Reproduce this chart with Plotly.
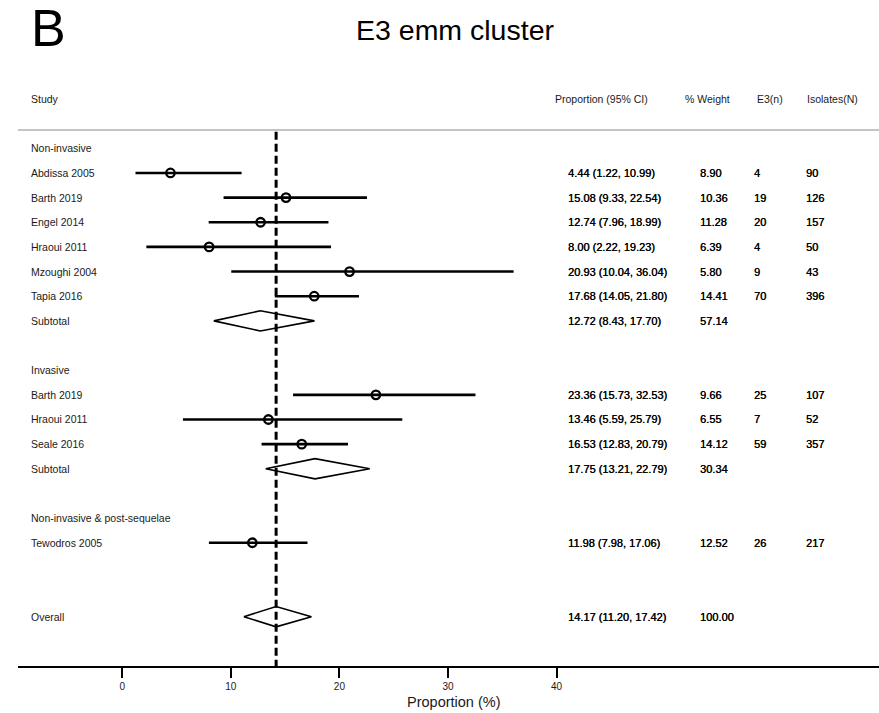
import plotly.graph_objects as go

# ---------------- data ----------------
group_names = ["Non-invasive", "Invasive", "Non-invasive & post-sequelae"]
study_names = ["Abdissa 2005", "Barth 2019", "Engel 2014", "Hraoui 2011", "Mzoughi 2004",
               "Tapia 2016", "Barth 2019", "Hraoui 2011", "Seale 2016", "Tewodros 2005"]
study_group = [0, 0, 0, 0, 0, 0, 1, 1, 1, 2]
prop = [4.44, 15.08, 12.74, 8.00, 20.93, 17.68, 23.36, 13.46, 16.53, 11.98]
ci_lo = [1.22, 9.33, 7.96, 2.22, 10.04, 14.05, 15.73, 5.59, 12.83, 7.98]
ci_hi = [10.99, 22.54, 18.99, 19.23, 36.04, 21.80, 32.53, 25.79, 20.79, 17.06]
weight = [8.90, 10.36, 11.28, 6.39, 5.80, 14.41, 9.66, 6.55, 14.12, 12.52]
e3_n = [4, 19, 20, 4, 9, 70, 25, 7, 59, 26]
isolates_n = [90, 126, 157, 50, 43, 396, 107, 52, 357, 217]

sub_prop = [12.72, 17.75, None]
sub_lo = [8.43, 13.21, None]
sub_hi = [17.70, 22.79, None]
sub_weight = [57.14, 30.34, None]

overall_prop = 14.17
overall_lo = 11.20
overall_hi = 17.42
overall_weight = 100.00

header_labels = ["Study", "Proportion (95% CI)", "% Weight", "E3(n)", "Isolates(N)"]
tick_vals = [0, 10, 20, 30, 40]

# ---------------- layout constants ----------------
W, H = 879, 713
ML, MR, MT, MB = 18, 0, 80, 47
X0, X1 = -9.60, 69.69
Y_BOTTOM, Y_TOP = 22.0, -1.771
FONT = "Liberation Sans, Arial, Helvetica, sans-serif"

SH = -0.19  # small left shift to compensate annotation padding
COL_LABEL = -8.40 + SH
COL_PROP_H, COL_PROP = 39.85 + SH, 41.05 + SH
COL_W_H, COL_W = 51.8 + SH, 53.2 + SH
COL_E3_H, COL_E3 = 58.45 + SH, 58.2 + SH
COL_N_H, COL_N = 63.1 + SH, 63.0 + SH

HALF_D = 0.41  # diamond half height in row units

# ---------------- row assignment ----------------
rows_study = [None] * len(study_names)
rows_group = []
rows_sub = []
r = 1
for g in range(len(group_names)):
    rows_group.append(r)
    r += 1
    for i, sg in enumerate(study_group):
        if sg == g:
            rows_study[i] = r
            r += 1
    rows_sub.append(r)
    r += 2
row_overall = r

fig = go.Figure()

# CI lines
lx, ly = [], []
for i in range(len(study_names)):
    lx += [ci_lo[i], ci_hi[i], None]
    ly += [rows_study[i], rows_study[i], None]
fig.add_trace(go.Scatter(x=lx, y=ly, mode="lines",
                         line=dict(color="black", width=2.6), hoverinfo="skip",
                         showlegend=False))

# point estimates
fig.add_trace(go.Scatter(x=prop, y=rows_study, mode="markers",
                         marker=dict(symbol="circle-open", size=8.5, color="black",
                                     line=dict(color="black", width=2.3)),
                         showlegend=False))


def diamond(p, lo, hi, row):
    fig.add_trace(go.Scatter(x=[lo, p, hi, p, lo], y=[row, row - HALF_D, row, row + HALF_D, row],
                             mode="lines", fill="toself", fillcolor="white",
                             line=dict(color="black", width=1.6), showlegend=False,
                             hoverinfo="skip"))


for g in range(len(group_names)):
    if sub_prop[g] is not None:
        diamond(sub_prop[g], sub_lo[g], sub_hi[g], rows_sub[g])
diamond(overall_prop, overall_lo, overall_hi, row_overall)

annotations = []
NUM_SHADOW = "0.35px 0px 0px #000000"


def txt(x, y, s, size=10.5, color="#1a1a1a", num=False):
    f = dict(family=FONT, size=size, color=color)
    if num:
        f["shadow"] = NUM_SHADOW
    annotations.append(dict(x=x, y=y, xref="x", yref="y", text=s, showarrow=False,
                            xanchor="left", yanchor="middle", font=f))


# header
hdr_x = [COL_LABEL, COL_PROP_H, COL_W_H, COL_E3_H, COL_N_H]
for hx, hl in zip(hdr_x, header_labels):
    txt(hx, -1, hl, size=10.5)

# groups
for g in range(len(group_names)):
    txt(COL_LABEL, rows_group[g], group_names[g])
    if sub_prop[g] is not None:
        txt(COL_LABEL, rows_sub[g], "Subtotal")
        txt(COL_PROP, rows_sub[g], f"{sub_prop[g]:.2f} ({sub_lo[g]:.2f}, {sub_hi[g]:.2f})",
            size=11, color="black", num=True)
        txt(COL_W, rows_sub[g], f"{sub_weight[g]:.2f}", size=11, color="black", num=True)

for i in range(len(study_names)):
    rr = rows_study[i]
    txt(COL_LABEL, rr, study_names[i])
    txt(COL_PROP, rr, f"{prop[i]:.2f} ({ci_lo[i]:.2f}, {ci_hi[i]:.2f})", size=11,
        color="black", num=True)
    txt(COL_W, rr, f"{weight[i]:.2f}", size=11, color="black", num=True)
    txt(COL_E3, rr, str(e3_n[i]), size=11, color="black", num=True)
    txt(COL_N, rr, str(isolates_n[i]), size=11, color="black", num=True)

txt(COL_LABEL, row_overall, "Overall")
txt(COL_PROP, row_overall, f"{overall_prop:.2f} ({overall_lo:.2f}, {overall_hi:.2f})",
    size=11, color="black", num=True)
txt(COL_W, row_overall, f"{overall_weight:.2f}", size=11, color="black", num=True)

PW = W - ML - MR
PH = H - MT - MB

# titles
annotations.append(dict(x=(455 - ML) / PW, y=((H - MB) - 30) / PH, xref="paper", yref="paper",
                        text="E3 emm cluster", showarrow=False, xanchor="center",
                        yanchor="middle", font=dict(family=FONT, size=28.5, color="black")))
annotations.append(dict(x=30.5, y=-(702 - (H - MB)) / PH, xref="x", yref="paper",
                        text="Proportion (%)", showarrow=False, xanchor="center",
                        yanchor="middle", font=dict(family=FONT, size=14.5, color="#1a1a1a")))
annotations.append(dict(x=(48 - ML) / PW, y=((H - MB) - 28) / PH,
                        xref="paper", yref="paper", text="B", showarrow=False,
                        xanchor="center", yanchor="middle",
                        font=dict(family=FONT, size=52, color="black")))

shapes = [
    dict(type="line", xref="paper", yref="y", x0=0, x1=1, y0=0.258, y1=0.258,
         line=dict(color="#c4c4c4", width=2), layer="above"),
    dict(type="line", xref="x", yref="y", x0=overall_prop, x1=overall_prop,
         y0=0.33, y1=Y_BOTTOM, line=dict(color="black", width=3, dash="8px,4px"),
         layer="above"),
]

fig.update_layout(
    width=W, height=H,
    margin=dict(l=ML, r=MR, t=MT, b=MB),
    paper_bgcolor="white", plot_bgcolor="white",
    showlegend=False,
    annotations=annotations,
    shapes=shapes,
    xaxis=dict(range=[X0, X1], tickvals=tick_vals, ticktext=[str(v) for v in tick_vals],
               ticks="outside", ticklen=10, tickwidth=2, tickcolor="black",
               showline=True, linewidth=2, linecolor="black",
               showgrid=False, zeroline=False,
               tickfont=dict(family=FONT, size=10, color="#1a1a1a")),
    yaxis=dict(range=[Y_BOTTOM, Y_TOP], visible=False, showgrid=False, zeroline=False),
)

fig.write_html("out.html")
